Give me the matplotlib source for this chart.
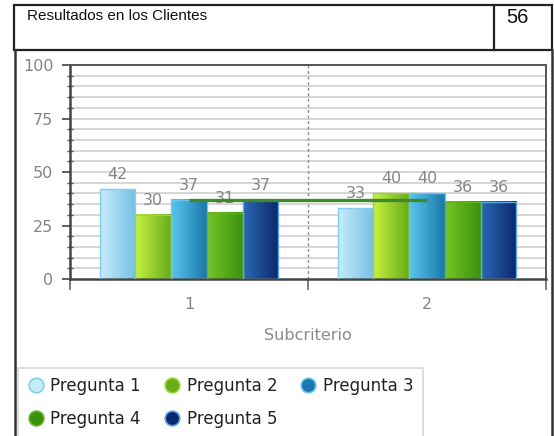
import numpy as np
import matplotlib
matplotlib.use('Agg')
import matplotlib.pyplot as plt
from matplotlib.colors import LinearSegmentedColormap
from matplotlib.lines import Line2D
from matplotlib.patches import Rectangle
from matplotlib.ticker import MultipleLocator, FixedLocator, NullFormatter

plt.rcParams['font.family'] = ['DejaVu Sans']

# data
categories = ['1', '2']
series_names = ['Pregunta 1', 'Pregunta 2', 'Pregunta 3', 'Pregunta 4', 'Pregunta 5']
values = {
    'Pregunta 1': [42, 33],
    'Pregunta 2': [30, 40],
    'Pregunta 3': [37, 40],
    'Pregunta 4': [31, 36],
    'Pregunta 5': [37, 36],
}
target_line = [37, 37]
header_title = 'Resultados en los Clientes'
header_number = '56'

# (left light, right dark, edge)
colors = {
    'Pregunta 1': ('#c4ecfa', '#78c0e4', '#86ccee'),
    'Pregunta 2': ('#c6f242', '#6aac1a', '#9ad630'),
    'Pregunta 3': ('#58c6ee', '#1c78aa', '#66c8f0'),
    'Pregunta 4': ('#76c426', '#3a920c', '#5cb41a'),
    'Pregunta 5': ('#2a68b2', '#0a286e', '#5aa8e8'),
}

W, H = 554, 436
fig = plt.figure(figsize=(W / 100, H / 100), dpi=100)
fig.patch.set_facecolor('white')

def fx(px):
    return px / W

def fy(py):
    return 1 - py / H

# header boxes and outer frame
fig.patches.append(Rectangle((fx(14), fy(50)), fx(538), 45 / H, transform=fig.transFigure,
                             fill=False, edgecolor='#222222', linewidth=1.6))
fig.lines.append(Line2D([fx(494), fx(494)], [fy(50), fy(5)], transform=fig.transFigure,
                        color='#222222', linewidth=1.6))
fig.lines.append(Line2D([fx(15), fx(15)], [fy(50), 0], transform=fig.transFigure,
                        color='#333333', linewidth=1.8))
fig.lines.append(Line2D([fx(552), fx(552)], [fy(50), 0], transform=fig.transFigure,
                        color='#333333', linewidth=1.8))
fig.text(fx(27), fy(9), header_title, family='Liberation Sans', fontsize=11,
         va='top', ha='left', color='#111111')
fig.text(fx(517), fy(8), header_number, family='Liberation Sans', fontsize=14.5,
         va='top', ha='center', color='#111111')

ax = fig.add_axes([fx(70), fy(279), (546 - 70) / W, (279 - 65) / H])

x = np.arange(1, len(categories) + 1)
bw = 0.15
n = len(series_names)
for i, name in enumerate(series_names):
    light, dark, edge = colors[name]
    pos = x + (i - (n - 1) / 2) * bw
    bars = ax.bar(pos, values[name], width=bw, facecolor='none', edgecolor=edge,
                  linewidth=1.0, zorder=3)
    cmap = LinearSegmentedColormap.from_list(name, [light, dark])
    grad = np.linspace(0, 1, 64).reshape(1, -1)
    for p, v in zip(bars.patches, values[name]):
        x0, w, h = p.get_x(), p.get_width(), p.get_height()
        ax.imshow(grad, extent=[x0, x0 + w, 0, h], aspect='auto', cmap=cmap,
                  clip_path=p, clip_on=True, zorder=2.5, interpolation='bilinear')
        ax.annotate(str(v), (p.get_x() + w / 2, h), xytext=(0, 5),
                    textcoords='offset points', ha='center', va='bottom',
                    fontsize=11.5, color='#858585', zorder=4)

ax.plot(x, target_line, color='#3c8a2c', linewidth=2.4, zorder=5, solid_capstyle='butt')

ax.set_xlim(0.5, len(categories) + 0.5)
ax.set_ylim(0, 100)

# grid
ax.yaxis.set_major_locator(MultipleLocator(25))
ax.yaxis.set_minor_locator(MultipleLocator(5))
for yv in np.arange(5, 100, 5):
    ax.axhline(yv, color='#d6d6d6', linewidth=1.4, zorder=1)
ax.axvline(1.5, color='#8a8a8a', linewidth=1.0, linestyle=(0, (2, 2)), zorder=1.5)

ax.tick_params(axis='y', which='major', length=6, width=1.2, color='#444444',
               labelcolor='#858585', labelsize=11.5, pad=6)
ax.tick_params(axis='y', which='minor', length=4, width=1.0, color='#555555',
               direction='inout')

ax.xaxis.set_major_locator(FixedLocator([0.5, 1.5, 2.5]))
ax.xaxis.set_major_formatter(NullFormatter())
ax.xaxis.set_minor_locator(FixedLocator(x))
ax.set_xticklabels(categories, minor=True)
ax.tick_params(axis='x', which='major', length=8, width=1.2, color='#666666')
ax.tick_params(axis='x', which='minor', length=0, labelcolor='#858585',
               labelsize=11.5, pad=13)

ax.set_xlabel('Subcriterio', color='#8a8a8a', fontsize=11.5)
ax.xaxis.set_label_coords(0.5, -0.228)

for side in ['left', 'bottom']:
    ax.spines[side].set_color('#444444')
    ax.spines[side].set_linewidth(1.8)
for side in ['top', 'right']:
    ax.spines[side].set_color('#555555')
    ax.spines[side].set_linewidth(1.4)

handles = {s: Line2D([], [], marker='o', linestyle='none', markersize=10.5,
                     markerfacecolor=colors[s][1] if s != 'Pregunta 1' else colors[s][0],
                     markeredgecolor=colors[s][2], markeredgewidth=1.2)
           for s in series_names}
# legend fills column by column; reorder so rows read 1 2 3 / 4 5
leg_order = ['Pregunta 1', 'Pregunta 4', 'Pregunta 2', 'Pregunta 5', 'Pregunta 3']
leg = fig.legend([handles[s] for s in leg_order], leg_order, ncol=3, loc='upper left',
                 bbox_to_anchor=(fx(18), fy(368)), frameon=True, fancybox=False,
                 edgecolor='#cccccc', fontsize=12, handletextpad=0.4,
                 columnspacing=1.35, borderpad=0.55, labelspacing=0.9,
                 handlelength=1.0, borderaxespad=0)
leg.get_frame().set_linewidth(1.2)
for t in leg.get_texts():
    t.set_color('#222222')

fig.savefig('out.png', dpi=100)
